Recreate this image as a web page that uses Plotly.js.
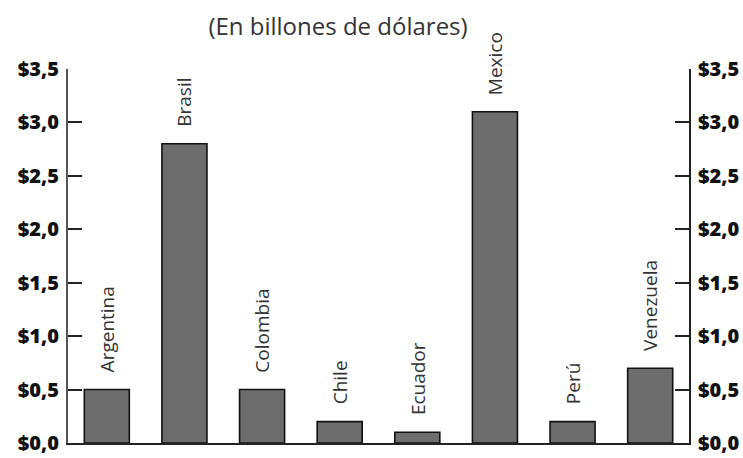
<!DOCTYPE html>
<html><head><meta charset="utf-8">
<script src="https://cdn.plot.ly/plotly-3.0.1.min.js"></script>
<style>html,body{margin:0;padding:0;background:#fff}#c{width:743px;height:458px}</style>
</head><body><div id="c"></div>
<script>
const countries = ["Argentina","Brasil","Colombia","Chile","Ecuador","Mexico","Perú","Venezuela"];
const values = [0.5, 2.8, 0.5, 0.2, 0.1, 3.1, 0.2, 0.7];
const tickVals = [0, 0.5, 1, 1.5, 2, 2.5, 3, 3.5];
const tickText = ["$0,0","$0,5","$1,0","$1,5","$2,0","$2,5","$3,0","$3,5"];
const titleText = "(En billones de dólares)";

const trace = {
  type: "bar", x: countries, y: values,
  marker: {color: "#6d6d6d", line: {color: "#111", width: 1.6}},
  width: 0.58, hoverinfo: "none"
};
const ghost = {type: "scatter", x: [countries[0]], y: [0], yaxis: "y2", mode: "markers",
  marker: {opacity: 0}, showlegend: false, hoverinfo: "none"};

const annotations = countries.map((c, i) => ({
  x: c, y: values[i], xref: "x", yref: "y", text: c, textangle: -90,
  showarrow: false, xanchor: "center", yanchor: "bottom", yshift: 15,
  font: {family: "Open Sans, sans-serif", size: 19, color: "#333"}
}));

const tickFont = {family: "Open Sans, sans-serif", size: 20, color: "#111", weight: 800};
const layout = {
  width: 743, height: 458,
  margin: {l: 68, r: 54, t: 69, b: 15},
  paper_bgcolor: "#fff", plot_bgcolor: "#fff",
  showlegend: false,
  title: {text: titleText, x: 338/743, xanchor: "center", xref: "container", y: 1 - 27/458, yanchor: "middle",
          font: {family: "Open Sans, sans-serif", size: 24, color: "#333"}},
  bargap: 0.42,
  xaxis: {type: "category", range: [-0.5, 7.5], showticklabels: false, ticks: "",
          showline: true, linecolor: "#222", linewidth: 2, showgrid: false, zeroline: false, fixedrange: true},
  yaxis: {range: [0, 3.5], tickvals: tickVals, ticktext: tickText, ticks: "inside", ticklen: 14,
          tickwidth: 2, tickcolor: "#222", showline: true, linecolor: "#555", linewidth: 2,
          showgrid: false, zeroline: false, tickfont: tickFont, ticklabelstandoff: 3},
  yaxis2: {range: [0, 3.5], overlaying: "y", side: "right", tickvals: tickVals, ticktext: tickText,
          ticks: "inside", ticklen: 14, tickwidth: 2, tickcolor: "#222", showline: true, linecolor: "#222",
          linewidth: 2, showgrid: false, zeroline: false, tickfont: tickFont, ticklabelstandoff: 3},
  annotations: annotations
};
Plotly.newPlot("c", [trace, ghost], layout, {staticPlot: true, displayModeBar: false});
</script></body></html>
